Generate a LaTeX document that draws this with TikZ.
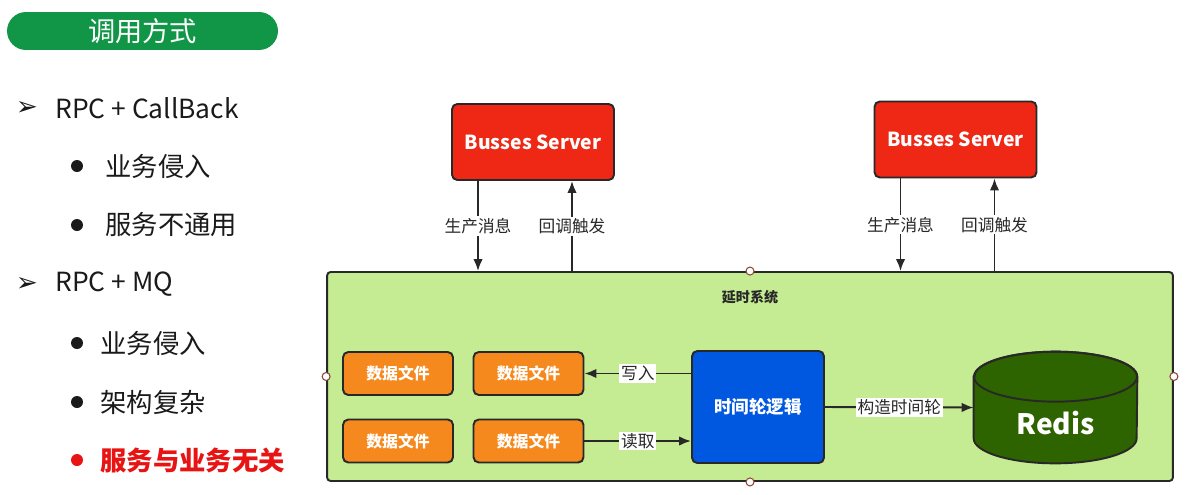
\documentclass[tikz,border=0pt]{standalone}
\usepackage{fontspec}
\setmainfont{Noto Sans CJK SC}
\newfontfamily\symfont{DejaVu Sans}
\usepackage{xcolor}
\usepackage{tikz}
\usetikzlibrary{arrows,arrows.meta,positioning,calc}
\definecolor{hdrgreen}{RGB}{16,150,70}
\definecolor{serverred}{RGB}{238,40,20}
\definecolor{edgegray}{RGB}{40,40,40}
\definecolor{sysgreen}{RGB}{197,235,147}
\definecolor{fileorange}{RGB}{246,137,30}
\definecolor{wheelblue}{RGB}{0,87,224}
\definecolor{redisgreen}{RGB}{46,100,0}
\definecolor{listred}{RGB}{232,20,20}
\definecolor{textblack}{RGB}{26,26,26}
\definecolor{handlebrown}{RGB}{140,70,55}
\tikzstyle{line} = [draw=edgegray, line width=1.1pt, -{Latex[length=0.24cm,width=0.19cm]}]
\tikzstyle{lbl} = [fill=white, inner sep=1pt, text=edgegray, font=\fontsize{9.5}{11}\selectfont]
\tikzstyle{hdr} = [fill=hdrgreen, rounded corners=0.38cm, minimum width=5.42cm, minimum height=0.76cm, text=white, font=\fontsize{15.5}{18}\selectfont]
\tikzstyle{pointer} = [inner sep=0pt, text=textblack, font=\symfont\fontsize{15}{17}\selectfont]
\tikzstyle{item} = [anchor=west, inner sep=0pt, text=textblack, font=\fontsize{15}{17}\selectfont]
\tikzstyle{dot} = [circle, fill=textblack, inner sep=0pt, minimum size=0.24cm]
\tikzstyle{server} = [draw=edgegray, line width=1.1pt, fill=serverred, rounded corners=3pt, minimum width=3.24cm, minimum height=1.52cm, text=white, font=\fontsize{11}{13}\selectfont\bfseries]
\tikzstyle{sysbox} = [draw=edgegray, line width=1.1pt, fill=sysgreen, rounded corners=2pt, minimum width=16.92cm, minimum height=4.18cm]
\tikzstyle{filebox} = [draw=edgegray, line width=1.1pt, fill=fileorange, rounded corners=3pt, minimum width=2.2cm, minimum height=0.86cm, text=white, font=\fontsize{9}{11}\selectfont\bfseries]
\tikzstyle{wheelbox} = [draw=edgegray, line width=1.1pt, fill=wheelblue, rounded corners=3pt, minimum width=2.64cm, minimum height=2.24cm, text=white, font=\fontsize{10}{12}\selectfont\bfseries]
\tikzstyle{handle} = [circle, draw=handlebrown, fill=white, line width=0.6pt, inner sep=0pt, minimum size=0.16cm]

\begin{document}
\begin{tikzpicture}[x=0.02cm, y=-0.02cm]
   		\useasboundingbox (0,0) rectangle (1189,494); % page in px
   		\node[hdr] (head) at (142.5,31) {调用方式}; % header pill
   		% left list
   		\node[pointer] (p1) at (27,108) {➢};
   		\node[item] (rpccb) at (55,108) {RPC + CallBack};
   		\node[dot] (d1) at (77,166) {};
   		\node[item] (t1) at (105,166) {业务侵入};
   		\node[dot] (d2) at (77,225) {};
   		\node[item] (t2) at (105,225) {服务不通用};
   		\node[pointer] (p2) at (27,284) {➢};
   		\node[item] (rpcmq) at (55,284) {RPC + MQ};
   		\node[dot] (d3) at (77,343) {};
   		\node[item] (t3) at (100,343) {业务侵入};
   		\node[dot] (d4) at (77,402) {};
   		\node[item] (t4) at (100,402) {架构复杂};
   		\node[dot, fill=listred] (d5) at (77,460) {};
   		\node[item, text=listred, font=\fontsize{15}{17}\selectfont\bfseries] (t5) at (100,460) {服务与业务无关};
   		% delay system
   		\node[sysbox] (sys) at (750,376.5) {};
   		\node[font=\fontsize{8}{10}\selectfont\bfseries, text=edgegray] (systitle) at (750,297) {延时系统};
   		\foreach \a in {north,south,east,west} \node[handle] at (sys.\a) {}; % handles
   		% servers
   		\node[server] (bs1) at (533,142) {Busses Server};
   		\node[server] (bs2) at (955.5,139.5) {Busses Server};
   		\foreach \s in {bs1,bs2} {
   			\draw[line] ([xshift=-1.1cm]\s.south) -- ([xshift=-1.1cm]\s.south |- sys.north) node[midway,lbl]{生产消息};
   			\draw[line] ([xshift=0.78cm]\s.south |- sys.north) -- ([xshift=0.78cm]\s.south) node[midway,lbl]{回调触发};
   		}
   		% files
   		\node[filebox] (f1) at (398,373.5) {数据文件};
   		\node[filebox] (f2) at (528.5,373.5) {数据文件};
   		\node[filebox] (f3) at (398,441) {数据文件};
   		\node[filebox] (f4) at (528.5,441) {数据文件};
   		\node[wheelbox] (wheel) at (758,407) {时间轮逻辑};
   		% redis cylinder
   		\node[minimum width=3.26cm, minimum height=2.22cm, inner sep=0pt] (redis) at (1055.5,407.5) {};
   		\filldraw[fill=redisgreen, draw=edgegray, line width=1.1pt] ([yshift=-0.5cm]redis.north west) -- ([yshift=0.5cm]redis.south west) arc(180:360:1.63cm and 0.5cm) -- ([yshift=-0.5cm]redis.north east) arc(0:180:1.63cm and 0.5cm) -- cycle;
   		\draw[draw=edgegray, line width=1.1pt] ([yshift=-0.5cm]redis.north) ellipse (1.63cm and 0.5cm); % top lid
   		\node[text=white, font=\fontsize{16}{19}\selectfont\bfseries] (redistxt) at ([yshift=-0.32cm]redis.center) {Redis};
   		% connectors
   		\draw[line] (wheel.west |- f2.east) -- (f2.east) node[midway,lbl]{写入};
   		\draw[line] (f4.east) -- (wheel.west |- f4.east) node[midway,lbl]{读取};
   		\draw[line] (wheel.east) -- (redis.west) node[midway,lbl]{构造时间轮};
\end{tikzpicture}
\end{document}
